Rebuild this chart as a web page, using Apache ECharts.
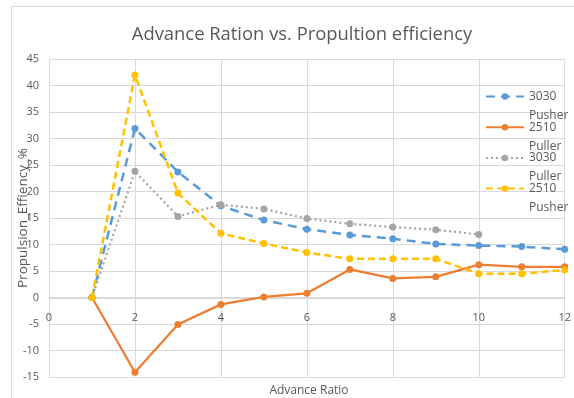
<!DOCTYPE html>
<html>
<head>
<meta charset="utf-8">
<script src="https://cdn.jsdelivr.net/npm/echarts@6/dist/echarts.min.js"></script>
<style>html,body{margin:0;padding:0;background:#fff}#c{width:574px;height:398px}</style>
</head>
<body>
<div id="c"></div>
<script>
var xValues = [1, 2, 3, 4, 5, 6, 7, 8, 9, 10, 11, 12];
var pusher3030 = [0, 31.9, 23.7, 17.3, 14.6, 12.9, 11.8, 11.1, 10.1, 9.8, 9.6, 9.1];
var puller2510 = [0, -14.1, -5.1, -1.3, 0.1, 0.8, 5.3, 3.6, 3.9, 6.2, 5.8, 5.8];
var puller3030 = [0, 23.8, 15.3, 17.5, 16.7, 14.9, 13.9, 13.3, 12.8, 11.9];
var pusher2510 = [0, 42.0, 19.7, 12.1, 10.2, 8.5, 7.3, 7.3, 7.3, 4.5, 4.5, 5.2];
var seriesNames = ['3030\nPusher', '2510\nPuller', '3030\nPuller', '2510\nPusher'];
var xTicks = [0, 2, 4, 6, 8, 10, 12];
var yTicks = [-15, 45, 5];

function pairs(vals) { return vals.map(function (v, i) { return [xValues[i], v]; }); }

var font = '"Open Sans", sans-serif';
var chart = echarts.init(document.getElementById('c'), null, { renderer: 'canvas' });
chart.setOption({
  animation: false,
  backgroundColor: '#fff',
  textStyle: { fontFamily: font },
  graphic: [{
    type: 'rect', shape: { x: 11.5, y: 6.5, width: 570, height: 400 },
    style: { fill: 'none', stroke: '#d9d9d9', lineWidth: 1 }, silent: true, z: -10
  }],
  title: [
    { text: 'Advance Ration vs. Propultion efficiency', left: 297, textAlign: 'center', top: 21,
      textStyle: { fontFamily: font, fontSize: 18.4, fontWeight: 'normal', color: '#595959' } },
    { text: 'Advance Ratio', left: 304, textAlign: 'center', top: 380,
      textStyle: { fontFamily: font, fontSize: 12, fontWeight: 'normal', color: '#595959' } }
  ],
  grid: { left: 49, right: 9, top: 59, bottom: 21, containLabel: false },
  legend: {
    orient: 'vertical', left: 480, top: 63,
    itemWidth: 38, itemHeight: 8, itemGap: -26.3,
    data: seriesNames,
    formatter: function (name) { return ' \n' + name; },
    textStyle: { fontFamily: font, fontSize: 12, color: '#595959', lineHeight: 19 }
  },
  xAxis: {
    type: 'value', min: xTicks[0], max: xTicks[xTicks.length - 1], interval: xTicks[1] - xTicks[0],
    position: 'bottom', offset: -79,
    axisLine: { show: true, onZero: false, lineStyle: { color: '#d9d9d9' } },
    axisTick: { show: false },
    axisLabel: { color: '#595959', fontSize: 11, margin: 14 },
    splitLine: { show: true, lineStyle: { color: '#d9d9d9' } }
  },
  yAxis: {
    type: 'value', min: yTicks[0], max: yTicks[1], interval: yTicks[2],
    name: 'Propulsion_Effiency_%', nameLocation: 'middle', nameRotate: 90, nameGap: 19,
    nameMoveOverlap: false,
    nameTextStyle: { color: '#595959', fontSize: 13.5 },
    axisLine: { show: false }, axisTick: { show: false },
    axisLabel: { color: '#595959', fontSize: 11, margin: 10 },
    splitLine: { show: true, lineStyle: { color: '#d9d9d9' } }
  },
  series: [
    { name: seriesNames[0], type: 'line', data: pairs(pusher3030), color: '#5B9BD5',
      symbol: 'circle', symbolSize: 7, lineStyle: { width: 2.5, type: [9, 6] } },
    { name: seriesNames[1], type: 'line', data: pairs(puller2510), color: '#ED7D31',
      symbol: 'circle', symbolSize: 7, lineStyle: { width: 2.25, type: 'solid' } },
    { name: seriesNames[2], type: 'line', data: pairs(puller3030), color: '#A5A5A5',
      symbol: 'circle', symbolSize: 7, lineStyle: { width: 2.25, type: [2, 3] } },
    { name: seriesNames[3], type: 'line', data: pairs(pusher2510), color: '#FFC000',
      symbol: 'circle', symbolSize: 7, lineStyle: { width: 2.5, type: [7, 4] } }
  ]
});
</script>
</body>
</html>
